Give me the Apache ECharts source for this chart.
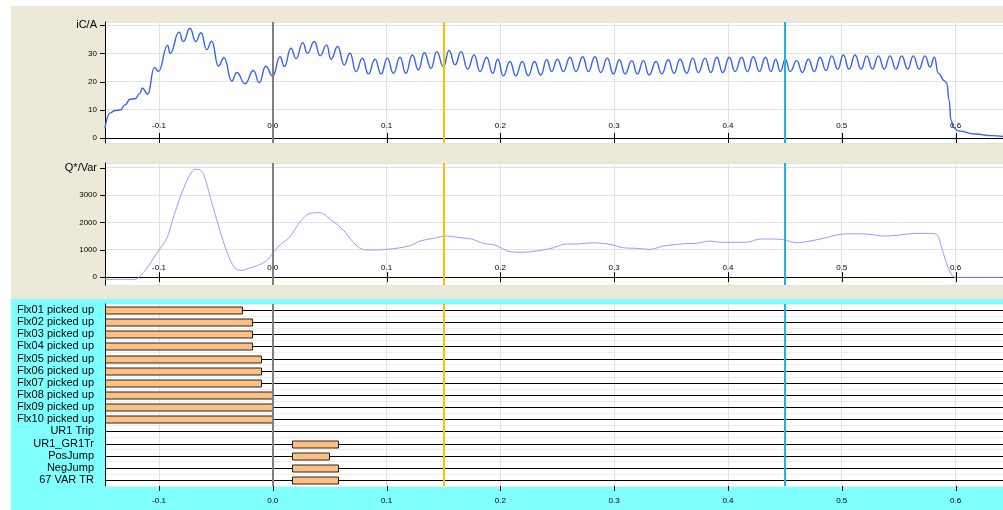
<!DOCTYPE html>
<html>
<head>
<meta charset="utf-8">
<script src="https://cdn.jsdelivr.net/npm/echarts@6/dist/echarts.min.js"></script>
<style>
  html, body { margin: 0; padding: 0; background: #fff; }
  /* panel backgrounds: beige for the waveforms, cyan for the binary traces */
  #chart {
    width: 1003px; height: 510px;
    background:
      linear-gradient(#ECE9D8, #ECE9D8) 11px 6px / 992px 293px no-repeat,
      linear-gradient(#80FFFF, #80FFFF) 11px 299px / 992px 211px no-repeat,
      #fff;
  }
</style>
</head>
<body>
<div id="chart"></div>
<script>
// iC/A : peaks and troughs
const icTime = [
  -0.1474, -0.1430, -0.1386, -0.1340, -0.1298, -0.1254, -0.1210, -0.1166, -0.1146, -0.1099,
  -0.1040, -0.1005, -0.0923, -0.0902, -0.0823, -0.0786, -0.0727, -0.0677, -0.0630, -0.0580,
  -0.0536, -0.0478, -0.0428, -0.0360, -0.0316, -0.0243, -0.0170, -0.0118, -0.0062, 0.0000,
  0.0064, 0.0102, 0.0160, 0.0205, 0.0264, 0.0304, 0.0366, 0.0416, 0.0474, 0.0512,
  0.0571, 0.0627, 0.0679, 0.0732, 0.0788, 0.0840, 0.0899, 0.0952, 0.1007, 0.1060,
  0.1119, 0.1169, 0.1227, 0.1280, 0.1332, 0.1391, 0.1441, 0.1500, 0.1549, 0.1602,
  0.1655, 0.1713, 0.1769, 0.1822, 0.1880, 0.1933, 0.1977, 0.2026, 0.2085, 0.2135,
  0.2193, 0.2246, 0.2299, 0.2355, 0.2408, 0.2450, 0.2501, 0.2554, 0.2612, 0.2665,
  0.2724, 0.2773, 0.2832, 0.2882, 0.2940, 0.2993, 0.3046, 0.3096, 0.3155, 0.3204,
  0.3257, 0.3307, 0.3368, 0.3418, 0.3476, 0.3526, 0.3579, 0.3638, 0.3691, 0.3740,
  0.3799, 0.3849, 0.3902, 0.3954, 0.4012, 0.4062, 0.4121, 0.4171, 0.4223, 0.4276,
  0.4330, 0.4378, 0.4420, 0.4460, 0.4505, 0.4546, 0.4605, 0.4654, 0.4707, 0.4759,
  0.4809, 0.4862, 0.4912, 0.4965, 0.5014, 0.5064, 0.5117, 0.5170, 0.5220, 0.5269,
  0.5322, 0.5374, 0.5424, 0.5475, 0.5527, 0.5580, 0.5629, 0.5679, 0.5732, 0.5776,
  0.5814, 0.5849, 0.5902, 0.5923, 0.5943, 0.5960, 0.5981, 0.6023, 0.6171, 0.6318,
  0.6417
];
const icValue = [
  3.4, 8.8, 9.7, 9.9, 11.7, 13.7, 13.9, 15.8, 17.7, 15.5,
  25.0, 23.6, 32.8, 30.0, 37.5, 34.2, 38.9, 34.2, 37.3, 31.3,
  34.3, 25.5, 28.4, 20.2, 23.2, 19.2, 23.9, 19.6, 25.4, 21.9,
  28.8, 25.3, 31.8, 28.1, 33.8, 30.0, 34.2, 29.1, 33.0, 27.9,
  32.4, 25.9, 30.0, 23.5, 28.3, 22.7, 27.9, 22.7, 28.3, 22.9,
  28.6, 22.9, 29.4, 24.1, 30.2, 24.7, 30.6, 25.3, 31.0, 25.9,
  30.6, 24.4, 29.4, 23.5, 28.6, 22.9, 27.9, 22.0, 27.1, 22.0,
  27.1, 22.0, 27.1, 22.3, 27.7, 23.5, 27.9, 23.5, 28.6, 23.5,
  28.8, 23.5, 28.8, 23.2, 28.3, 22.7, 27.7, 22.7, 27.4, 22.7,
  27.4, 22.3, 27.1, 22.7, 27.7, 22.9, 27.9, 22.9, 28.3, 23.2,
  28.3, 23.2, 28.6, 23.2, 28.6, 23.5, 28.6, 23.5, 28.8, 23.5,
  28.6, 23.5, 27.9, 23.5, 27.9, 23.5, 27.4, 23.2, 27.9, 23.5,
  28.6, 23.9, 29.1, 24.4, 29.4, 24.4, 29.4, 24.4, 29.1, 24.4,
  29.1, 24.4, 29.1, 24.4, 29.1, 24.4, 29.1, 24.4, 29.1, 25.1,
  28.6, 22.9, 20.3, 19.4, 13.5, 6.4, 3.8, 2.5, 1.4, 0.8,
  0.5
];

// Q*/Var
const qTime = [
  -0.1474, -0.1210, -0.1172, -0.1107, -0.1020, -0.0931, -0.0867, -0.0771, -0.0683, -0.0639,
  -0.0604, -0.0522, -0.0404, -0.0331, -0.0272, -0.0214, -0.0141, -0.0053, 0.0005, 0.0064,
  0.0152, 0.0240, 0.0328, 0.0416, 0.0504, 0.0620, 0.0708, 0.0782, 0.0884, 0.1002,
  0.1119, 0.1206, 0.1294, 0.1411, 0.1529, 0.1646, 0.1749, 0.1850, 0.1953, 0.2085,
  0.2202, 0.2320, 0.2466, 0.2569, 0.2671, 0.2817, 0.2964, 0.3081, 0.3199, 0.3315,
  0.3432, 0.3608, 0.3726, 0.3843, 0.3930, 0.4165, 0.4282, 0.4399, 0.4487, 0.4605,
  0.4721, 0.4838, 0.4985, 0.5102, 0.5249, 0.5366, 0.5483, 0.5600, 0.5688, 0.5829,
  0.5879, 0.5937, 0.5981, 0.6010, 0.6417
];
const qValue = [
  -85, -85, 10, 318, 867, 1416, 2269, 3366, 3940, 3915,
  3732, 2513, 926, 318, 245, 318, 413, 596, 904, 1171,
  1475, 2023, 2330, 2353, 2122, 1720, 1270, 1024, 988, 1013,
  1072, 1145, 1317, 1416, 1500, 1438, 1390, 1233, 1171, 926,
  904, 951, 1072, 1207, 1207, 1255, 1196, 1072, 1050, 1013,
  1134, 1218, 1233, 1317, 1270, 1270, 1390, 1390, 1365, 1255,
  1317, 1416, 1562, 1584, 1562, 1500, 1526, 1584, 1599, 1573,
  1050, 318, 10, -10, -10
];

// binary signals
const eventNames = [
  'Flx01 picked up', 'Flx02 picked up', 'Flx03 picked up', 'Flx04 picked up', 'Flx05 picked up',
  'Flx06 picked up', 'Flx07 picked up', 'Flx08 picked up', 'Flx09 picked up', 'Flx10 picked up',
  'UR1 Trip', 'UR1_GR1Tr', 'PosJump', 'NegJump', '67 VAR TR'
];
const eventOn = [-0.15, -0.15, -0.15, -0.15, -0.15, -0.15, -0.15, -0.15, -0.15, -0.15,
  null, 0.0167, 0.0167, 0.0167, 0.0167];
const eventOff = [-0.0267, -0.0185, -0.0185, -0.0185, -0.0100, -0.0100, -0.0100, 0.0, 0.0, 0.0,
  null, 0.0568, 0.0489, 0.0568, 0.0568];

// tick values
const timeTicks = [-0.1, 0.0, 0.1, 0.2, 0.3, 0.4, 0.5, 0.6];
const icTicks = [0, 10, 20, 30, 40];
const qTicks = [0, 1000, 2000, 3000, 4000];

// cursors
const cursorA = 0.15;
const cursorB = 0.45;

const X_MIN = -0.1474;
const X_MAX = 0.6417;
const IC_MIN = -1.8, IC_MAX = 41.1;
const Q_MIN = -290, Q_MAX = 4170;
const FONT = 'Arial, "Liberation Sans", sans-serif';

function zip(a, b) {
  return a.map((v, i) => [v, b[i]]);
}

function onStep(v, step) {
  return Math.abs(v / step - Math.round(v / step)) < 1e-6;
}

function timeLabel(v) {
  if (!onStep(v, 0.1)) return '';
  return (Math.round(v * 10) / 10).toFixed(1);
}

// time axis of a waveform panel, labels sit above the zero line
function timeAxis(grid) {
  return {
    type: 'value', gridIndex: grid, min: X_MIN, max: X_MAX, splitNumber: 8,
    axisLine: { onZero: true, lineStyle: { color: '#000', width: 1 } },
    axisTick: { show: false },
    axisLabel: { inside: true, margin: 13, fontSize: 8, color: '#000', fontFamily: FONT, formatter: timeLabel },
    splitLine: { show: true, lineStyle: { color: '#e2e2e2' } }
  };
}

function valueAxis(grid, min, max, step, unit) {
  return {
    type: 'value', gridIndex: grid, min: min, max: max,
    axisLine: { show: true, onZero: false, lineStyle: { color: '#000' } },
    axisTick: { show: false },
    axisLabel: {
      fontSize: 8, color: '#000', margin: 8, fontFamily: FONT,
      formatter: function (v) {
        if (!onStep(v, step)) return '';
        if (Math.round(v / step) === 4) return '{u|' + unit + '}';
        return String(Math.round(v));
      },
      rich: { u: { fontSize: 11, color: '#000', fontFamily: FONT } }
    },
    splitLine: { show: true, lineStyle: { color: '#e2e2e2' } }
  };
}

// hidden helper axis, only used to place tick marks
function hiddenAxis(grid, min, max) {
  return { type: 'value', gridIndex: grid, min: min, max: max, show: false };
}

// tick marks: 'cross' goes through the zero line, 'h' and 'v' fill a thin helper grid
function tickMarks(xi, yi, points, kind) {
  return {
    type: 'custom', xAxisIndex: xi, yAxisIndex: yi, z: 4, silent: true,
    data: points,
    encode: { x: 0, y: 1 },
    renderItem: function (params, api) {
      const cs = params.coordSys;
      const p = api.coord([api.value(0), api.value(1)]);
      let shape;
      if (kind === 'cross') {
        const x = Math.round(p[0]) + 0.5;
        shape = { x1: x, y1: p[1] - 5, x2: x, y2: p[1] + 5 };
      } else if (kind === 'v') {
        const x = Math.round(p[0]) + 0.5;
        shape = { x1: x, y1: cs.y, x2: x, y2: cs.y + cs.height };
      } else {
        const y = Math.round(p[1]) + 0.5;
        shape = { x1: cs.x, y1: y, x2: cs.x + cs.width, y2: y };
      }
      return { type: 'line', shape: shape, style: { stroke: '#000', lineWidth: 1 } };
    }
  };
}

const cursorLines = {
  silent: true,
  symbol: ['none', 'none'],
  label: { show: false },
  animation: false,
  data: [
    { xAxis: 0, lineStyle: { color: '#808080', width: 2, type: 'solid' } },
    { xAxis: cursorA, lineStyle: { color: '#FFC000', width: 2, type: 'solid' } },
    { xAxis: cursorB, lineStyle: { color: '#1CB4E8', width: 2, type: 'solid' } }
  ]
};

function renderEvent(params, api) {
  const cs = params.coordSys;
  const row = api.value(0);
  let y = api.coord([0, row])[1];
  y = Math.round(y) + 0.5;
  const children = [{
    type: 'line',
    shape: { x1: cs.x, y1: y, x2: cs.x + cs.width, y2: y },
    style: { stroke: '#000', lineWidth: 1 }
  }];
  if (api.value(3)) {
    const x0 = Math.max(api.coord([api.value(1), row])[0], cs.x);
    const x1 = api.coord([api.value(2), row])[0];
    children.push({
      type: 'rect',
      shape: { x: Math.round(x0) + 0.5, y: y - 3.5, width: Math.round(x1 - x0), height: 7 },
      style: { fill: '#FFBF80', stroke: '#222', lineWidth: 1 }
    });
  }
  return { type: 'group', children: children };
}

const chart = echarts.init(document.getElementById('chart'), null, { renderer: 'canvas' });

var option = {
  backgroundColor: 'transparent',
  animation: false,
  textStyle: { fontFamily: FONT },
  grid: [
    { left: 105, top: 22, width: 898, height: 121, show: true, backgroundColor: '#fff', borderWidth: 0, outerBoundsMode: 'none' },
    { left: 105, top: 163, width: 898, height: 122, show: true, backgroundColor: '#fff', borderWidth: 0, outerBoundsMode: 'none' },
    { left: 105, top: 304, width: 898, height: 182, show: true, backgroundColor: '#fff', borderWidth: 0, outerBoundsMode: 'none' },
    // thin strips holding the outside tick marks
    { left: 100, top: 22, width: 5, height: 121, show: false, outerBoundsMode: 'none' },
    { left: 100, top: 163, width: 5, height: 122, show: false, outerBoundsMode: 'none' },
    { left: 105, top: 486, width: 898, height: 5, show: false, outerBoundsMode: 'none' }
  ],
  xAxis: [
    timeAxis(0),
    timeAxis(1),
    {
      type: 'value', gridIndex: 2, min: X_MIN, max: X_MAX, splitNumber: 8,
      axisLine: { onZero: false, lineStyle: { color: '#000' } },
      axisTick: { show: false },
      axisLabel: { margin: 11, fontSize: 8, color: '#000', fontFamily: FONT, formatter: timeLabel },
      splitLine: { show: true, lineStyle: { color: '#e2e2e2' } }
    },
    hiddenAxis(3, 0, 1),
    hiddenAxis(4, 0, 1),
    hiddenAxis(5, X_MIN, X_MAX)
  ],
  yAxis: [
    valueAxis(0, IC_MIN, IC_MAX, 10, 'iC/A'),
    valueAxis(1, Q_MIN, Q_MAX, 1000, 'Q*/Var'),
    {
      type: 'category', gridIndex: 2, data: eventNames, inverse: true,
      axisLine: { show: true, onZero: false, lineStyle: { color: '#000' } },
      axisTick: { show: false },
      axisLabel: { interval: 0, fontSize: 11, color: '#000', margin: 11, fontFamily: FONT },
      splitLine: { show: true, interval: 0, lineStyle: { color: '#eeeeee' } }
    },
    hiddenAxis(3, IC_MIN, IC_MAX),
    hiddenAxis(4, Q_MIN, Q_MAX),
    hiddenAxis(5, 0, 1)
  ],
  series: [
    {
      name: 'iC/A', type: 'line', xAxisIndex: 0, yAxisIndex: 0,
      data: zip(icTime, icValue),
      showSymbol: false, smooth: 0.5, smoothMonotone: 'x',
      lineStyle: { color: '#3563F0', width: 1.4 },
      markLine: cursorLines
    },
    tickMarks(0, 0, timeTicks.map(t => [t, 0]), 'cross'),
    tickMarks(3, 3, icTicks.map(v => [0, v]), 'h'),
    {
      name: 'Q*/Var', type: 'line', xAxisIndex: 1, yAxisIndex: 1,
      data: zip(qTime, qValue),
      showSymbol: false, smooth: 0.3,
      lineStyle: { color: '#9A9AFF', width: 1 },
      markLine: cursorLines
    },
    tickMarks(1, 1, timeTicks.map(t => [t, 0]), 'cross'),
    tickMarks(4, 4, qTicks.map(v => [0, v]), 'h'),
    {
      name: 'events', type: 'custom', xAxisIndex: 2, yAxisIndex: 2,
      renderItem: renderEvent,
      encode: { x: [1, 2], y: 0 },
      data: eventNames.map((n, i) => [i, eventOn[i] == null ? 0 : eventOn[i], eventOff[i] == null ? 0 : eventOff[i], eventOn[i] == null ? 0 : 1])
    },
    tickMarks(5, 5, timeTicks.map(t => [t, 0.5]), 'v'),
    {
      name: 'cursors', type: 'line', xAxisIndex: 2, yAxisIndex: 2, z: 5,
      data: [[cursorA, 0]], showSymbol: false,
      lineStyle: { opacity: 0 },
      markLine: cursorLines
    }
  ]
};

chart.setOption(option);
</script>
</body>
</html>
